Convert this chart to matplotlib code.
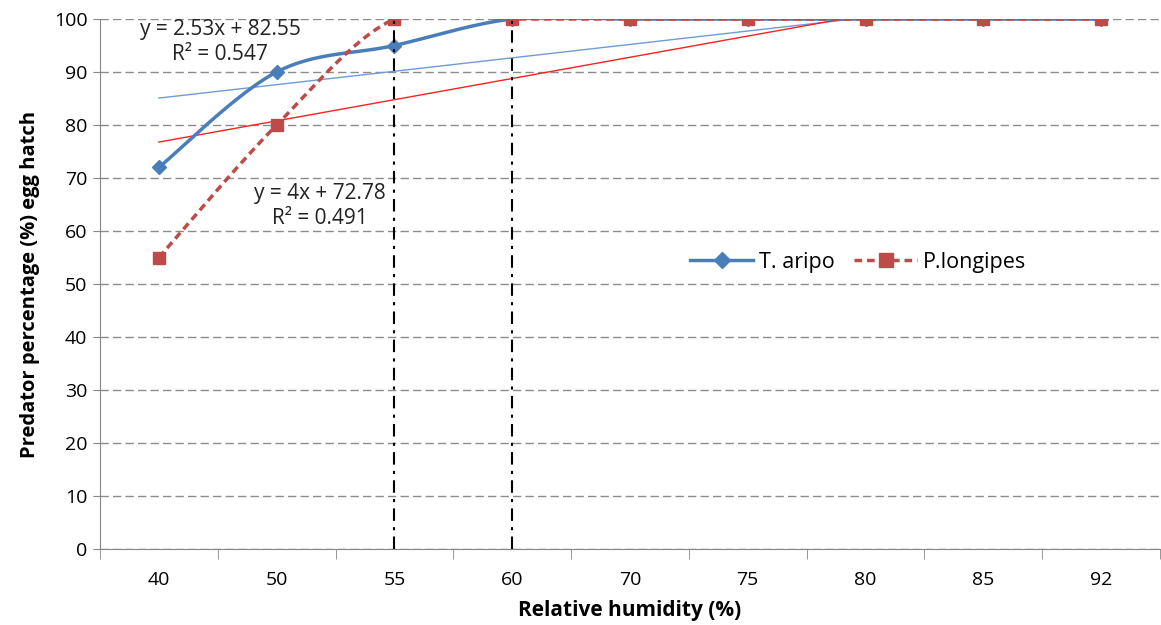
import numpy as np
import matplotlib
matplotlib.use("Agg")
import matplotlib.pyplot as plt

plt.rcParams['font.family'] = ['Open Sans', 'DejaVu Sans']

humidity = ['40', '50', '55', '60', '70', '75', '80', '85', '92']
t_aripo = [72, 90, 95, 100, 100, 100, 100, 100, 100]
p_longipes = [55, 80, 100, 100, 100, 100, 100, 100, 100]
trend_t = (2.53, 82.55, 0.547)
trend_p = (4.0, 72.78, 0.491)
marked_rh = ['55', '60']

BLUE = '#4a7ebb'
RED = '#be4b48'


def smooth(xs, ys, n=30):
    # Excel-ish smoothing: Catmull-Rom as cubic bezier segments
    pts = np.column_stack([xs, ys]).astype(float)
    out = [pts[0]]
    for i in range(len(pts) - 1):
        p0 = pts[max(i - 1, 0)]
        p1 = pts[i]
        p2 = pts[i + 1]
        p3 = pts[min(i + 2, len(pts) - 1)]
        c1 = p1 + (p2 - p0) / 6
        c2 = p2 - (p3 - p1) / 6
        t = np.linspace(0, 1, n)[1:, None]
        seg = ((1 - t) ** 3) * p1 + 3 * ((1 - t) ** 2) * t * c1 + 3 * (1 - t) * t ** 2 * c2 + t ** 3 * p2
        out.extend(seg)
    out = np.array(out)
    return out[:, 0], out[:, 1]


fig = plt.figure(figsize=(11.61, 6.25), dpi=100)
ax = fig.add_axes([0.0861, 0.1216, 0.9130, 0.848])

x = np.arange(len(humidity))

# trendlines (x = 1..n as in Excel)
for (m, b, r2), col in [(trend_t, '#6f9bd6'), (trend_p, '#ff2020')]:
    ax.plot(x, m * (x + 1) + b, color=col, lw=1.0, zorder=3)

# smoothed series
sx, sy = smooth(x, t_aripo)
ax.plot(sx, sy, color=BLUE, lw=2.5, zorder=4)
ax.plot(x, t_aripo, ls='none', marker='D', ms=7.5, color=BLUE, zorder=5)
sx, sy = smooth(x, p_longipes)
ax.plot(sx, sy, color=RED, lw=2.5, ls=(0, (2.2, 1.4)), zorder=4)
ax.plot(x, p_longipes, ls='none', marker='s', ms=9, color=RED, zorder=5)

# vertical dash-dot markers
for lab in marked_rh:
    i = humidity.index(lab)
    ax.plot([i, i], [0, 100], color='black', lw=1.5, ls=(0, (6, 3, 1.5, 3)), zorder=6, clip_on=False)

# legend proxies
ax.plot([], [], color=BLUE, lw=2.5, marker='D', ms=8, label='T. aripo')
ax.plot([], [], color=RED, lw=2.5, ls=(0, (2.2, 1.4)), marker='s', ms=10, label='P.longipes')
ax.legend(loc='center left', bbox_to_anchor=(0.557, 0.541), ncol=2, frameon=False,
          fontsize=15.5, handlelength=2.9, columnspacing=0.9, handletextpad=0.3,
          borderaxespad=0, borderpad=0)

ax.text(0.52, 95.6, f"y = {trend_t[0]:.2f}x + {trend_t[1]:.2f}\nR² = {trend_t[2]:.3f}",
        ha='center', va='center', fontsize=15, color='#222222', linespacing=1.25)
ax.text(1.37, 64.7, f"y = {trend_p[0]:g}x + {trend_p[1]:.2f}\nR² = {trend_p[2]:.3f}",
        ha='center', va='center', fontsize=15, color='#222222', linespacing=1.25)

ax.set_xlim(-0.5, len(humidity) - 0.5)
ax.set_ylim(0, 100)
ax.set_yticks(range(0, 101, 10))
ax.set_xticks(x)
ax.set_xticklabels(humidity)
ax.set_xticks(np.arange(-0.5, len(humidity)), minor=True)
ax.tick_params(axis='x', which='major', length=0, pad=16, labelsize=14)
ax.tick_params(axis='x', which='minor', length=7, color='#868686', direction='out')
ax.tick_params(axis='y', length=5, color='#868686', labelsize=14, pad=4)
ax.grid(axis='y', color='#8c8c8c', ls=(0, (6, 3)), lw=1)
ax.set_axisbelow(True)
for s in ['top', 'right']:
    ax.spines[s].set_visible(False)
for s in ['left', 'bottom']:
    ax.spines[s].set_color('#868686')

ax.set_xlabel('Relative humidity (%)', fontsize=15, fontweight='bold', labelpad=8)
ax.set_ylabel('Predator percentage (%) egg hatch', fontsize=14.5, fontweight='bold', labelpad=10)

fig.savefig('out.png', dpi=100)
